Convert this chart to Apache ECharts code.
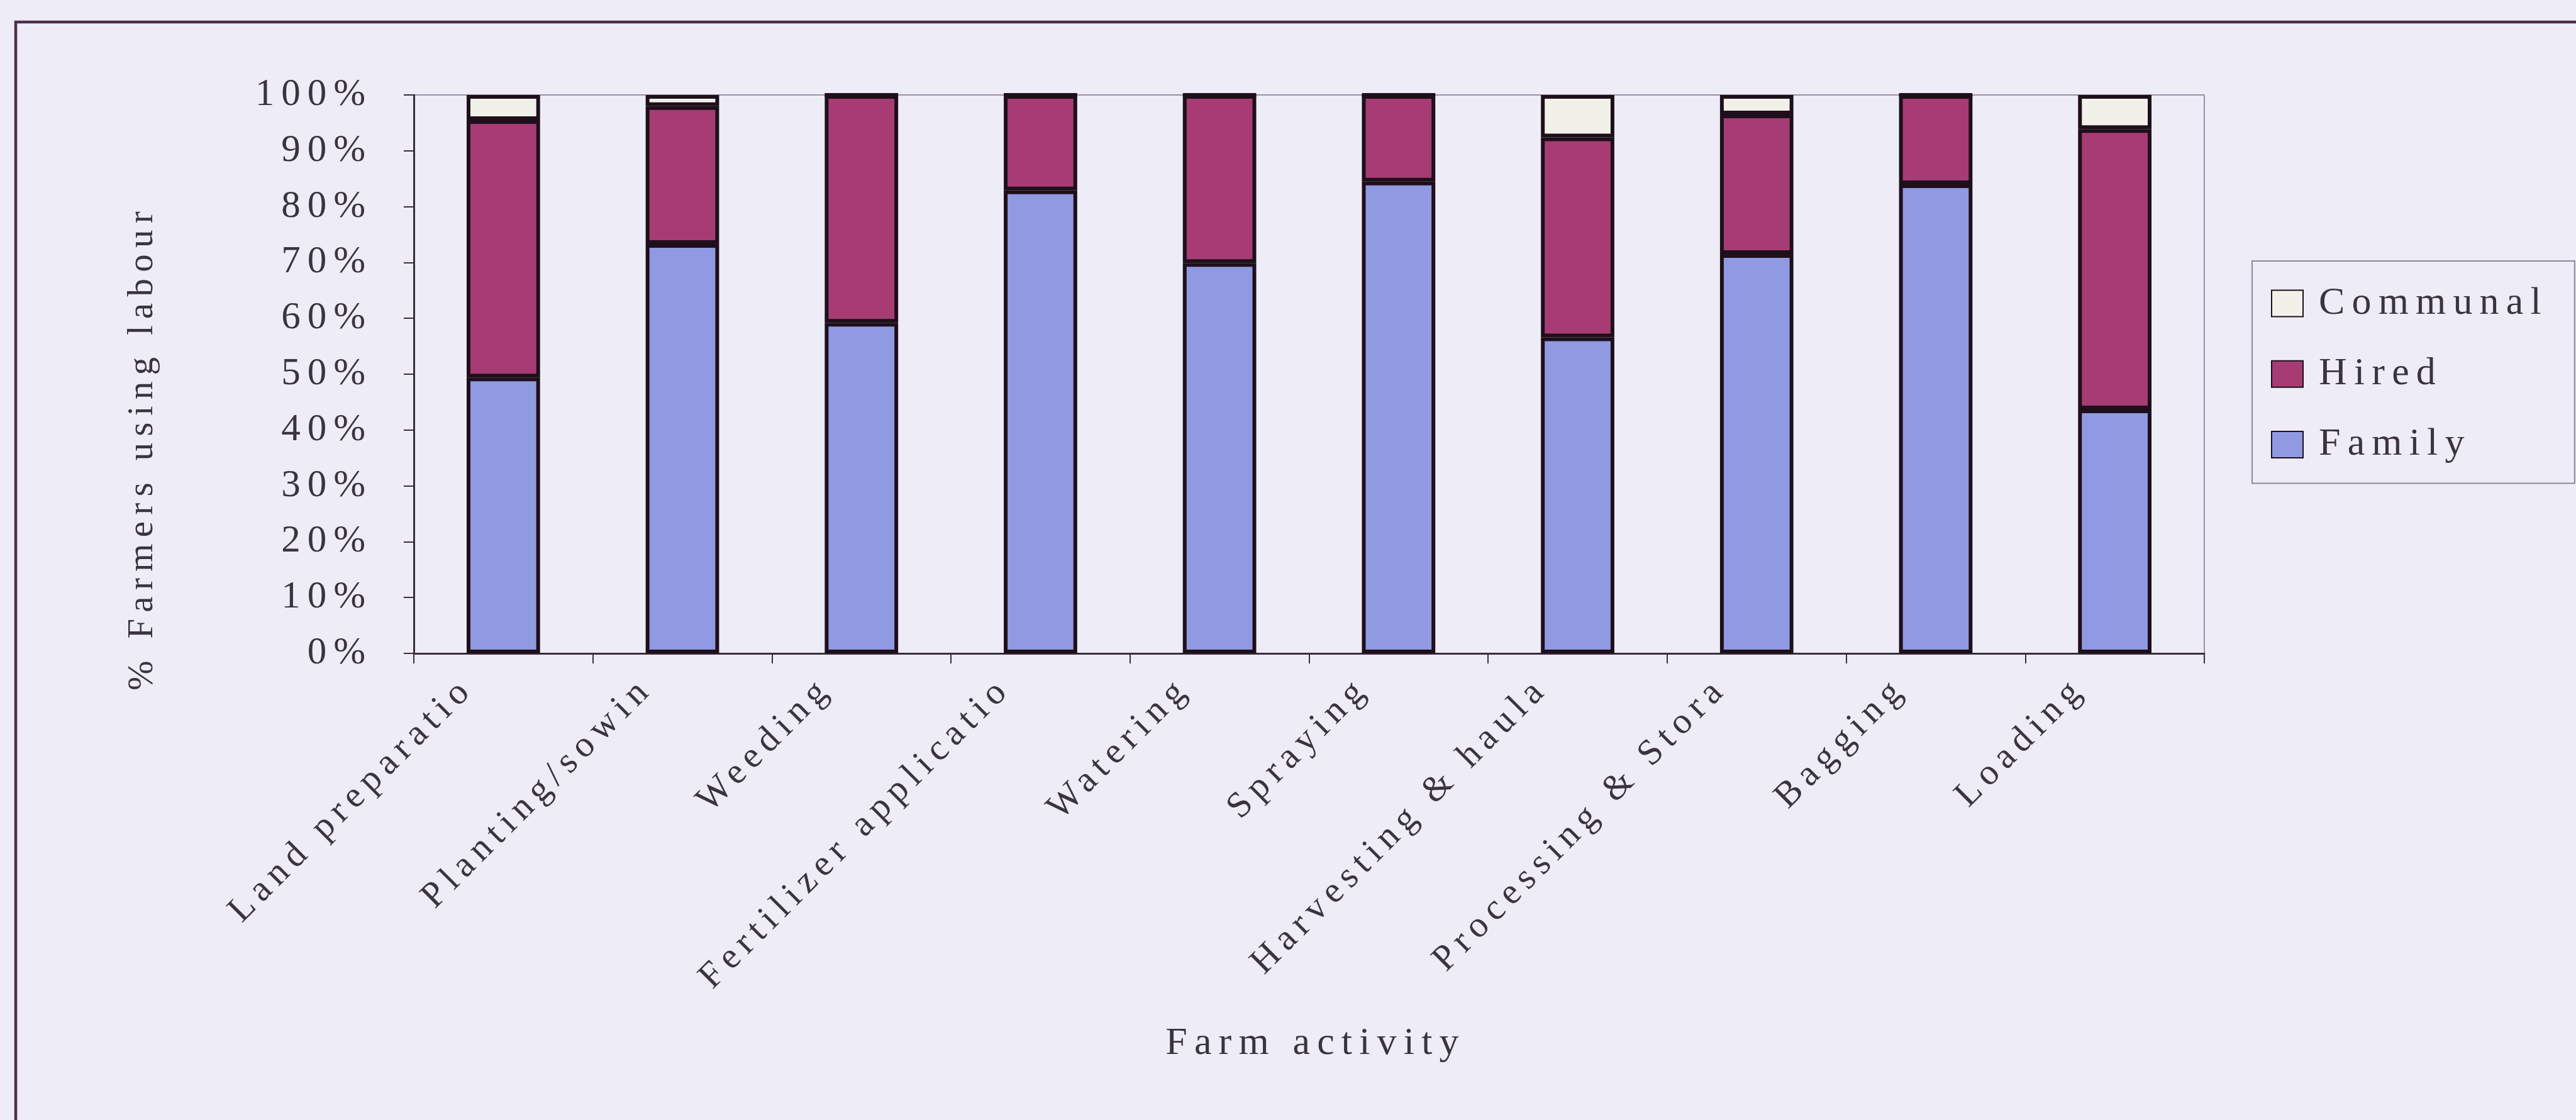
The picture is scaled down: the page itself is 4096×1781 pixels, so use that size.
<!DOCTYPE html>
<html>
<head>
<meta charset="utf-8">
<title>Farmers using labour by farm activity</title>
<script src="https://cdn.jsdelivr.net/npm/echarts@6/dist/echarts.min.js"></script>
<style>
  html, body { margin: 0; padding: 0; background: #edecf7; }
  #chart { width: 4096px; height: 1781px; }
</style>
</head>
<body>
<div id="chart"></div>
<script>
// Farm activities, with the names cut short as they are printed on the axis
const activities = ['Land preparatio', 'Planting/sowin', 'Weeding', 'Fertilizer applicatio', 'Watering',
                    'Spraying', 'Harvesting & haula', 'Processing & Stora', 'Bagging', 'Loading'];

// Share of farmers (%) relying on each source of labour
const family   = [49.4, 73.3, 59.2, 82.9, 69.9, 84.5, 56.6, 71.5, 84.0, 43.7];
const hired    = [46.1, 24.7, 40.8, 17.1, 30.1, 15.5, 35.8, 25.0, 16.0, 50.2];
const communal = [4.5, 2.0, 0, 0, 0, 0, 7.6, 3.5, 0, 6.1];

// Percentage scale
const pctMin = 0, pctMax = 100, pctStep = 10;

const labourSources = ['Communal', 'Hired', 'Family'];

// Wide-tracked lettering: every canvas text call gets spacing proportional to its font size,
// applied to measuring as well so the layout accounts for it
const TRACKING_EM = 0.18;
(function () {
  const proto = CanvasRenderingContext2D.prototype;
  if (!('letterSpacing' in proto)) return;
  ['fillText', 'strokeText', 'measureText'].forEach(function (name) {
    const original = proto[name];
    proto[name] = function () {
      const m = /(\d+(?:\.\d+)?)px/.exec(this.font);
      this.letterSpacing = m ? (parseFloat(m[1]) * TRACKING_EM).toFixed(2) + 'px' : '0px';
      return original.apply(this, arguments);
    };
  });
})();

const FONT = '"Liberation Serif", "Times New Roman", serif';
const INK = '#3b3340';
const AXIS = '#3a2d3c';
const EDGE = '#1e0f1a';

const chart = echarts.init(document.getElementById('chart'), null, { renderer: 'canvas' });

function barSeries(name, values, fill) {
  return {
    name: name,
    type: 'bar',
    stack: 'labour',
    data: values,
    barWidth: '41%',
    itemStyle: { color: fill, borderColor: EDGE, borderWidth: 6 },
    emphasis: { disabled: true }
  };
}

chart.setOption({
  backgroundColor: '#edecf7',
  animation: false,
  textStyle: { fontFamily: FONT, color: INK },
  grid: {
    left: 658, right: 591, top: 151, bottom: 742,
    show: true, borderColor: '#9a92a6', borderWidth: 2, backgroundColor: 'transparent',
    outerBoundsMode: 'none'
  },
  legend: {
    orient: 'vertical',
    left: 3581, top: 415,
    padding: [31, 42, 25, 30],
    itemWidth: 50, itemHeight: 42, itemGap: 39,
    icon: 'rect',
    borderColor: '#8e8698', borderWidth: 2,
    textStyle: { fontFamily: FONT, fontSize: 62, lineHeight: 60, color: INK, padding: [0, 0, 0, 20] },
    data: labourSources
  },
  xAxis: {
    type: 'category',
    data: activities,
    axisLine: { lineStyle: { color: AXIS, width: 3 } },
    axisTick: { show: true, length: 16, lineStyle: { color: AXIS, width: 2 } },
    axisLabel: {
      interval: 0, rotate: 45, margin: -8, padding: [0, 78, 0, 0],
      fontFamily: FONT, fontSize: 58, color: INK
    },
    splitLine: { show: false }
  },
  yAxis: {
    type: 'value',
    min: pctMin, max: pctMax, interval: pctStep,
    axisLine: { show: true, lineStyle: { color: AXIS, width: 3 } },
    axisTick: { show: true, length: 16, lineStyle: { color: AXIS, width: 2 } },
    axisLabel: { formatter: '{value}%', fontFamily: FONT, fontSize: 61, color: INK, margin: 66 },
    splitLine: { show: false }
  },
  graphic: [
    {
      type: 'rect', silent: true,
      shape: { x: 25, y: 35, width: 5000, height: 3000 },
      style: { fill: 'none', stroke: '#4a3048', lineWidth: 4.5 }
    },
    {
      type: 'text', silent: true,
      x: 227, y: 712, rotation: Math.PI / 2,
      style: {
        text: '% Farmers using labour', fontFamily: FONT, fontSize: 57, fill: INK,
        align: 'center', verticalAlign: 'middle'
      }
    },
    {
      type: 'text', silent: true,
      x: 2092, y: 1660,
      style: {
        text: 'Farm activity', fontFamily: FONT, fontSize: 62, fill: INK,
        align: 'center', verticalAlign: 'middle'
      }
    }
  ],
  series: [
    barSeries('Family', family, '#8f9ae2'),
    barSeries('Hired', hired, '#a63c73'),
    barSeries('Communal', communal, '#f1f1e9')
  ]
});
</script>
</body>
</html>
